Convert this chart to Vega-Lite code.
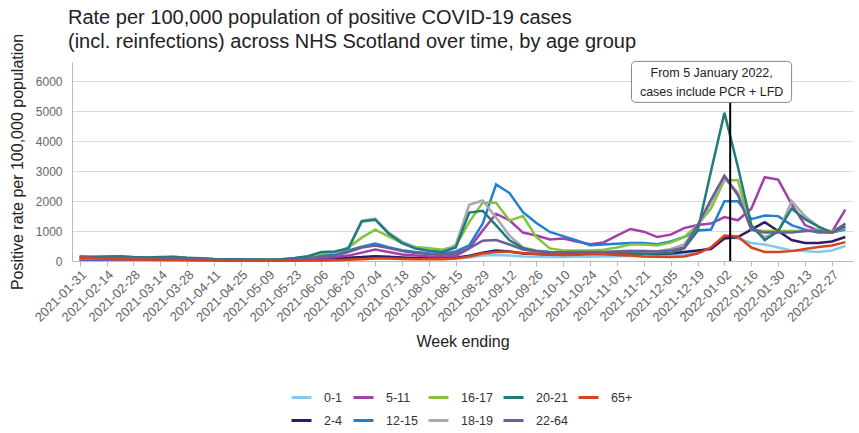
{
"$schema":"https://vega.github.io/schema/vega-lite/v6.json",
"width":781,"height":199,
"autosize":{"type":"none"},
"padding":{"left":72,"top":62,"right":6,"bottom":172},
"background":"white",
"config":{"view":{"stroke":null},"font":"Liberation Sans"},
"title":{"text":["Rate per 100,000 population of positive COVID-19 cases","(incl. reinfections) across NHS Scotland over time, by age group"],"anchor":"start","frame":"group","fontSize":20,"fontWeight":"normal","lineHeight":24,"color":"#222","offset":8,"dx":-4,"dy":27,"font":"Liberation Sans"},
"datasets":{"cases":[
{"d":"2021-01-31","g":"0-1","v":50},{"d":"2021-02-07","g":"0-1","v":45},{"d":"2021-02-14","g":"0-1","v":50},{"d":"2021-02-21","g":"0-1","v":55},{"d":"2021-02-28","g":"0-1","v":50},{"d":"2021-03-07","g":"0-1","v":50},{"d":"2021-03-14","g":"0-1","v":50},{"d":"2021-03-21","g":"0-1","v":45},{"d":"2021-03-28","g":"0-1","v":40},{"d":"2021-04-04","g":"0-1","v":35},
{"d":"2021-04-11","g":"0-1","v":30},{"d":"2021-04-18","g":"0-1","v":25},{"d":"2021-04-25","g":"0-1","v":20},{"d":"2021-05-02","g":"0-1","v":20},{"d":"2021-05-09","g":"0-1","v":20},{"d":"2021-05-16","g":"0-1","v":25},{"d":"2021-05-23","g":"0-1","v":30},{"d":"2021-05-30","g":"0-1","v":40},{"d":"2021-06-06","g":"0-1","v":60},{"d":"2021-06-13","g":"0-1","v":80},
{"d":"2021-06-20","g":"0-1","v":90},{"d":"2021-06-27","g":"0-1","v":120},{"d":"2021-07-04","g":"0-1","v":150},{"d":"2021-07-11","g":"0-1","v":130},{"d":"2021-07-18","g":"0-1","v":100},{"d":"2021-07-25","g":"0-1","v":90},{"d":"2021-08-01","g":"0-1","v":80},{"d":"2021-08-08","g":"0-1","v":80},{"d":"2021-08-15","g":"0-1","v":90},{"d":"2021-08-22","g":"0-1","v":120},
{"d":"2021-08-29","g":"0-1","v":180},{"d":"2021-09-05","g":"0-1","v":200},{"d":"2021-09-12","g":"0-1","v":180},{"d":"2021-09-19","g":"0-1","v":150},{"d":"2021-09-26","g":"0-1","v":140},{"d":"2021-10-03","g":"0-1","v":130},{"d":"2021-10-10","g":"0-1","v":130},{"d":"2021-10-17","g":"0-1","v":140},{"d":"2021-10-24","g":"0-1","v":140},{"d":"2021-10-31","g":"0-1","v":150},
{"d":"2021-11-07","g":"0-1","v":160},{"d":"2021-11-14","g":"0-1","v":170},{"d":"2021-11-21","g":"0-1","v":170},{"d":"2021-11-28","g":"0-1","v":160},{"d":"2021-12-05","g":"0-1","v":180},{"d":"2021-12-12","g":"0-1","v":220},{"d":"2021-12-19","g":"0-1","v":300},{"d":"2021-12-26","g":"0-1","v":450},{"d":"2022-01-02","g":"0-1","v":800},{"d":"2022-01-09","g":"0-1","v":750},
{"d":"2022-01-16","g":"0-1","v":600},{"d":"2022-01-23","g":"0-1","v":550},{"d":"2022-01-30","g":"0-1","v":450},{"d":"2022-02-06","g":"0-1","v":350},{"d":"2022-02-13","g":"0-1","v":330},{"d":"2022-02-20","g":"0-1","v":300},{"d":"2022-02-27","g":"0-1","v":350},{"d":"2022-03-06","g":"0-1","v":500},

{"d":"2021-01-31","g":"2-4","v":60},{"d":"2021-02-07","g":"2-4","v":50},{"d":"2021-02-14","g":"2-4","v":60},{"d":"2021-02-21","g":"2-4","v":70},{"d":"2021-02-28","g":"2-4","v":60},{"d":"2021-03-07","g":"2-4","v":60},{"d":"2021-03-14","g":"2-4","v":60},{"d":"2021-03-21","g":"2-4","v":60},{"d":"2021-03-28","g":"2-4","v":50},{"d":"2021-04-04","g":"2-4","v":40},
{"d":"2021-04-11","g":"2-4","v":30},{"d":"2021-04-18","g":"2-4","v":25},{"d":"2021-04-25","g":"2-4","v":20},{"d":"2021-05-02","g":"2-4","v":20},{"d":"2021-05-09","g":"2-4","v":20},{"d":"2021-05-16","g":"2-4","v":25},{"d":"2021-05-23","g":"2-4","v":30},{"d":"2021-05-30","g":"2-4","v":50},{"d":"2021-06-06","g":"2-4","v":80},{"d":"2021-06-13","g":"2-4","v":100},
{"d":"2021-06-20","g":"2-4","v":110},{"d":"2021-06-27","g":"2-4","v":130},{"d":"2021-07-04","g":"2-4","v":160},{"d":"2021-07-11","g":"2-4","v":140},{"d":"2021-07-18","g":"2-4","v":120},{"d":"2021-07-25","g":"2-4","v":100},{"d":"2021-08-01","g":"2-4","v":90},{"d":"2021-08-08","g":"2-4","v":90},{"d":"2021-08-15","g":"2-4","v":110},{"d":"2021-08-22","g":"2-4","v":180},
{"d":"2021-08-29","g":"2-4","v":280},{"d":"2021-09-05","g":"2-4","v":350},{"d":"2021-09-12","g":"2-4","v":320},{"d":"2021-09-19","g":"2-4","v":250},{"d":"2021-09-26","g":"2-4","v":230},{"d":"2021-10-03","g":"2-4","v":220},{"d":"2021-10-10","g":"2-4","v":220},{"d":"2021-10-17","g":"2-4","v":230},{"d":"2021-10-24","g":"2-4","v":230},{"d":"2021-10-31","g":"2-4","v":230},
{"d":"2021-11-07","g":"2-4","v":240},{"d":"2021-11-14","g":"2-4","v":240},{"d":"2021-11-21","g":"2-4","v":240},{"d":"2021-11-28","g":"2-4","v":230},{"d":"2021-12-05","g":"2-4","v":250},{"d":"2021-12-12","g":"2-4","v":300},{"d":"2021-12-19","g":"2-4","v":350},{"d":"2021-12-26","g":"2-4","v":400},{"d":"2022-01-02","g":"2-4","v":750},{"d":"2022-01-09","g":"2-4","v":800},
{"d":"2022-01-16","g":"2-4","v":1050},{"d":"2022-01-23","g":"2-4","v":1300},{"d":"2022-01-30","g":"2-4","v":1000},{"d":"2022-02-06","g":"2-4","v":700},{"d":"2022-02-13","g":"2-4","v":600},{"d":"2022-02-20","g":"2-4","v":600},{"d":"2022-02-27","g":"2-4","v":650},{"d":"2022-03-06","g":"2-4","v":800},

{"d":"2021-01-31","g":"5-11","v":50},{"d":"2021-02-07","g":"5-11","v":50},{"d":"2021-02-14","g":"5-11","v":60},{"d":"2021-02-21","g":"5-11","v":70},{"d":"2021-02-28","g":"5-11","v":70},{"d":"2021-03-07","g":"5-11","v":80},{"d":"2021-03-14","g":"5-11","v":90},{"d":"2021-03-21","g":"5-11","v":80},{"d":"2021-03-28","g":"5-11","v":60},{"d":"2021-04-04","g":"5-11","v":50},
{"d":"2021-04-11","g":"5-11","v":40},{"d":"2021-04-18","g":"5-11","v":30},{"d":"2021-04-25","g":"5-11","v":25},{"d":"2021-05-02","g":"5-11","v":25},{"d":"2021-05-09","g":"5-11","v":20},{"d":"2021-05-16","g":"5-11","v":30},{"d":"2021-05-23","g":"5-11","v":40},{"d":"2021-05-30","g":"5-11","v":60},{"d":"2021-06-06","g":"5-11","v":100},{"d":"2021-06-13","g":"5-11","v":130},
{"d":"2021-06-20","g":"5-11","v":180},{"d":"2021-06-27","g":"5-11","v":280},{"d":"2021-07-04","g":"5-11","v":380},{"d":"2021-07-11","g":"5-11","v":300},{"d":"2021-07-18","g":"5-11","v":220},{"d":"2021-07-25","g":"5-11","v":180},{"d":"2021-08-01","g":"5-11","v":160},{"d":"2021-08-08","g":"5-11","v":150},{"d":"2021-08-15","g":"5-11","v":170},{"d":"2021-08-22","g":"5-11","v":420},
{"d":"2021-08-29","g":"5-11","v":1020},{"d":"2021-09-05","g":"5-11","v":1580},{"d":"2021-09-12","g":"5-11","v":1360},{"d":"2021-09-19","g":"5-11","v":950},{"d":"2021-09-26","g":"5-11","v":850},{"d":"2021-10-03","g":"5-11","v":720},{"d":"2021-10-10","g":"5-11","v":750},{"d":"2021-10-17","g":"5-11","v":650},{"d":"2021-10-24","g":"5-11","v":560},{"d":"2021-10-31","g":"5-11","v":620},
{"d":"2021-11-07","g":"5-11","v":850},{"d":"2021-11-14","g":"5-11","v":1070},{"d":"2021-11-21","g":"5-11","v":980},{"d":"2021-11-28","g":"5-11","v":800},{"d":"2021-12-05","g":"5-11","v":880},{"d":"2021-12-12","g":"5-11","v":1100},{"d":"2021-12-19","g":"5-11","v":1200},{"d":"2021-12-26","g":"5-11","v":1250},{"d":"2022-01-02","g":"5-11","v":1470},{"d":"2022-01-09","g":"5-11","v":1360},
{"d":"2022-01-16","g":"5-11","v":1750},{"d":"2022-01-23","g":"5-11","v":2800},{"d":"2022-01-30","g":"5-11","v":2720},{"d":"2022-02-06","g":"5-11","v":1900},{"d":"2022-02-13","g":"5-11","v":1200},{"d":"2022-02-20","g":"5-11","v":1020},{"d":"2022-02-27","g":"5-11","v":970},{"d":"2022-03-06","g":"5-11","v":1720},

{"d":"2021-01-31","g":"12-15","v":70},{"d":"2021-02-07","g":"12-15","v":60},{"d":"2021-02-14","g":"12-15","v":70},{"d":"2021-02-21","g":"12-15","v":90},{"d":"2021-02-28","g":"12-15","v":90},{"d":"2021-03-07","g":"12-15","v":100},{"d":"2021-03-14","g":"12-15","v":110},{"d":"2021-03-21","g":"12-15","v":100},{"d":"2021-03-28","g":"12-15","v":80},{"d":"2021-04-04","g":"12-15","v":60},
{"d":"2021-04-11","g":"12-15","v":50},{"d":"2021-04-18","g":"12-15","v":40},{"d":"2021-04-25","g":"12-15","v":35},{"d":"2021-05-02","g":"12-15","v":30},{"d":"2021-05-09","g":"12-15","v":30},{"d":"2021-05-16","g":"12-15","v":40},{"d":"2021-05-23","g":"12-15","v":60},{"d":"2021-05-30","g":"12-15","v":100},{"d":"2021-06-06","g":"12-15","v":180},{"d":"2021-06-13","g":"12-15","v":220},
{"d":"2021-06-20","g":"12-15","v":350},{"d":"2021-06-27","g":"12-15","v":480},{"d":"2021-07-04","g":"12-15","v":580},{"d":"2021-07-11","g":"12-15","v":460},{"d":"2021-07-18","g":"12-15","v":360},{"d":"2021-07-25","g":"12-15","v":300},{"d":"2021-08-01","g":"12-15","v":260},{"d":"2021-08-08","g":"12-15","v":250},{"d":"2021-08-15","g":"12-15","v":320},{"d":"2021-08-22","g":"12-15","v":520},
{"d":"2021-08-29","g":"12-15","v":1250},{"d":"2021-09-05","g":"12-15","v":2560},{"d":"2021-09-12","g":"12-15","v":2270},{"d":"2021-09-19","g":"12-15","v":1630},{"d":"2021-09-26","g":"12-15","v":1270},{"d":"2021-10-03","g":"12-15","v":970},{"d":"2021-10-10","g":"12-15","v":830},{"d":"2021-10-17","g":"12-15","v":690},{"d":"2021-10-24","g":"12-15","v":530},{"d":"2021-10-31","g":"12-15","v":550},
{"d":"2021-11-07","g":"12-15","v":580},{"d":"2021-11-14","g":"12-15","v":600},{"d":"2021-11-21","g":"12-15","v":600},{"d":"2021-11-28","g":"12-15","v":560},{"d":"2021-12-05","g":"12-15","v":650},{"d":"2021-12-12","g":"12-15","v":800},{"d":"2021-12-19","g":"12-15","v":1020},{"d":"2021-12-26","g":"12-15","v":1050},{"d":"2022-01-02","g":"12-15","v":2000},{"d":"2022-01-09","g":"12-15","v":2000},
{"d":"2022-01-16","g":"12-15","v":1400},{"d":"2022-01-23","g":"12-15","v":1520},{"d":"2022-01-30","g":"12-15","v":1500},{"d":"2022-02-06","g":"12-15","v":1200},{"d":"2022-02-13","g":"12-15","v":1050},{"d":"2022-02-20","g":"12-15","v":950},{"d":"2022-02-27","g":"12-15","v":950},{"d":"2022-03-06","g":"12-15","v":1050},

{"d":"2021-01-31","g":"16-17","v":100},{"d":"2021-02-07","g":"16-17","v":90},{"d":"2021-02-14","g":"16-17","v":100},{"d":"2021-02-21","g":"16-17","v":120},{"d":"2021-02-28","g":"16-17","v":110},{"d":"2021-03-07","g":"16-17","v":110},{"d":"2021-03-14","g":"16-17","v":120},{"d":"2021-03-21","g":"16-17","v":120},{"d":"2021-03-28","g":"16-17","v":100},{"d":"2021-04-04","g":"16-17","v":80},
{"d":"2021-04-11","g":"16-17","v":60},{"d":"2021-04-18","g":"16-17","v":50},{"d":"2021-04-25","g":"16-17","v":40},{"d":"2021-05-02","g":"16-17","v":40},{"d":"2021-05-09","g":"16-17","v":40},{"d":"2021-05-16","g":"16-17","v":50},{"d":"2021-05-23","g":"16-17","v":80},{"d":"2021-05-30","g":"16-17","v":130},{"d":"2021-06-06","g":"16-17","v":250},{"d":"2021-06-13","g":"16-17","v":280},
{"d":"2021-06-20","g":"16-17","v":450},{"d":"2021-06-27","g":"16-17","v":780},{"d":"2021-07-04","g":"16-17","v":1050},{"d":"2021-07-11","g":"16-17","v":820},{"d":"2021-07-18","g":"16-17","v":600},{"d":"2021-07-25","g":"16-17","v":470},{"d":"2021-08-01","g":"16-17","v":430},{"d":"2021-08-08","g":"16-17","v":380},{"d":"2021-08-15","g":"16-17","v":500},{"d":"2021-08-22","g":"16-17","v":1300},
{"d":"2021-08-29","g":"16-17","v":1950},{"d":"2021-09-05","g":"16-17","v":1950},{"d":"2021-09-12","g":"16-17","v":1350},{"d":"2021-09-19","g":"16-17","v":1500},{"d":"2021-09-26","g":"16-17","v":800},{"d":"2021-10-03","g":"16-17","v":420},{"d":"2021-10-10","g":"16-17","v":350},{"d":"2021-10-17","g":"16-17","v":350},{"d":"2021-10-24","g":"16-17","v":350},{"d":"2021-10-31","g":"16-17","v":380},
{"d":"2021-11-07","g":"16-17","v":450},{"d":"2021-11-14","g":"16-17","v":550},{"d":"2021-11-21","g":"16-17","v":550},{"d":"2021-11-28","g":"16-17","v":520},{"d":"2021-12-05","g":"16-17","v":620},{"d":"2021-12-12","g":"16-17","v":800},{"d":"2021-12-19","g":"16-17","v":1200},{"d":"2021-12-26","g":"16-17","v":1750},{"d":"2022-01-02","g":"16-17","v":2700},{"d":"2022-01-09","g":"16-17","v":2700},
{"d":"2022-01-16","g":"16-17","v":1050},{"d":"2022-01-23","g":"16-17","v":1000},{"d":"2022-01-30","g":"16-17","v":1000},{"d":"2022-02-06","g":"16-17","v":1000},{"d":"2022-02-13","g":"16-17","v":1000},{"d":"2022-02-20","g":"16-17","v":1050},{"d":"2022-02-27","g":"16-17","v":1000},{"d":"2022-03-06","g":"16-17","v":1200},

{"d":"2021-01-31","g":"18-19","v":140},{"d":"2021-02-07","g":"18-19","v":130},{"d":"2021-02-14","g":"18-19","v":140},{"d":"2021-02-21","g":"18-19","v":150},{"d":"2021-02-28","g":"18-19","v":120},{"d":"2021-03-07","g":"18-19","v":110},{"d":"2021-03-14","g":"18-19","v":120},{"d":"2021-03-21","g":"18-19","v":130},{"d":"2021-03-28","g":"18-19","v":100},{"d":"2021-04-04","g":"18-19","v":80},
{"d":"2021-04-11","g":"18-19","v":60},{"d":"2021-04-18","g":"18-19","v":50},{"d":"2021-04-25","g":"18-19","v":50},{"d":"2021-05-02","g":"18-19","v":40},{"d":"2021-05-09","g":"18-19","v":40},{"d":"2021-05-16","g":"18-19","v":50},{"d":"2021-05-23","g":"18-19","v":90},{"d":"2021-05-30","g":"18-19","v":150},{"d":"2021-06-06","g":"18-19","v":280},{"d":"2021-06-13","g":"18-19","v":300},
{"d":"2021-06-20","g":"18-19","v":400},{"d":"2021-06-27","g":"18-19","v":1350},{"d":"2021-07-04","g":"18-19","v":1420},{"d":"2021-07-11","g":"18-19","v":950},{"d":"2021-07-18","g":"18-19","v":650},{"d":"2021-07-25","g":"18-19","v":460},{"d":"2021-08-01","g":"18-19","v":350},{"d":"2021-08-08","g":"18-19","v":300},{"d":"2021-08-15","g":"18-19","v":550},{"d":"2021-08-22","g":"18-19","v":1880},
{"d":"2021-08-29","g":"18-19","v":2020},{"d":"2021-09-05","g":"18-19","v":1450},{"d":"2021-09-12","g":"18-19","v":850},{"d":"2021-09-19","g":"18-19","v":450},{"d":"2021-09-26","g":"18-19","v":350},{"d":"2021-10-03","g":"18-19","v":300},{"d":"2021-10-10","g":"18-19","v":290},{"d":"2021-10-17","g":"18-19","v":280},{"d":"2021-10-24","g":"18-19","v":280},{"d":"2021-10-31","g":"18-19","v":300},
{"d":"2021-11-07","g":"18-19","v":330},{"d":"2021-11-14","g":"18-19","v":350},{"d":"2021-11-21","g":"18-19","v":340},{"d":"2021-11-28","g":"18-19","v":330},{"d":"2021-12-05","g":"18-19","v":400},{"d":"2021-12-12","g":"18-19","v":550},{"d":"2021-12-19","g":"18-19","v":1150},{"d":"2021-12-26","g":"18-19","v":1950},{"d":"2022-01-02","g":"18-19","v":2750},{"d":"2022-01-09","g":"18-19","v":2300},
{"d":"2022-01-16","g":"18-19","v":1100},{"d":"2022-01-23","g":"18-19","v":800},{"d":"2022-01-30","g":"18-19","v":950},{"d":"2022-02-06","g":"18-19","v":2000},{"d":"2022-02-13","g":"18-19","v":1500},{"d":"2022-02-20","g":"18-19","v":1150},{"d":"2022-02-27","g":"18-19","v":950},{"d":"2022-03-06","g":"18-19","v":1100},

{"d":"2021-01-31","g":"20-21","v":150},{"d":"2021-02-07","g":"20-21","v":140},{"d":"2021-02-14","g":"20-21","v":150},{"d":"2021-02-21","g":"20-21","v":160},{"d":"2021-02-28","g":"20-21","v":130},{"d":"2021-03-07","g":"20-21","v":120},{"d":"2021-03-14","g":"20-21","v":130},{"d":"2021-03-21","g":"20-21","v":140},{"d":"2021-03-28","g":"20-21","v":110},{"d":"2021-04-04","g":"20-21","v":90},
{"d":"2021-04-11","g":"20-21","v":70},{"d":"2021-04-18","g":"20-21","v":60},{"d":"2021-04-25","g":"20-21","v":60},{"d":"2021-05-02","g":"20-21","v":50},{"d":"2021-05-09","g":"20-21","v":50},{"d":"2021-05-16","g":"20-21","v":60},{"d":"2021-05-23","g":"20-21","v":100},{"d":"2021-05-30","g":"20-21","v":160},{"d":"2021-06-06","g":"20-21","v":300},{"d":"2021-06-13","g":"20-21","v":320},
{"d":"2021-06-20","g":"20-21","v":420},{"d":"2021-06-27","g":"20-21","v":1320},{"d":"2021-07-04","g":"20-21","v":1380},{"d":"2021-07-11","g":"20-21","v":920},{"d":"2021-07-18","g":"20-21","v":600},{"d":"2021-07-25","g":"20-21","v":420},{"d":"2021-08-01","g":"20-21","v":340},{"d":"2021-08-08","g":"20-21","v":300},{"d":"2021-08-15","g":"20-21","v":450},{"d":"2021-08-22","g":"20-21","v":1620},
{"d":"2021-08-29","g":"20-21","v":1680},{"d":"2021-09-05","g":"20-21","v":1190},{"d":"2021-09-12","g":"20-21","v":690},{"d":"2021-09-19","g":"20-21","v":430},{"d":"2021-09-26","g":"20-21","v":330},{"d":"2021-10-03","g":"20-21","v":290},{"d":"2021-10-10","g":"20-21","v":270},{"d":"2021-10-17","g":"20-21","v":260},{"d":"2021-10-24","g":"20-21","v":250},{"d":"2021-10-31","g":"20-21","v":250},
{"d":"2021-11-07","g":"20-21","v":260},{"d":"2021-11-14","g":"20-21","v":250},{"d":"2021-11-21","g":"20-21","v":240},{"d":"2021-11-28","g":"20-21","v":250},{"d":"2021-12-05","g":"20-21","v":270},{"d":"2021-12-12","g":"20-21","v":420},{"d":"2021-12-19","g":"20-21","v":1000},{"d":"2021-12-26","g":"20-21","v":3000},{"d":"2022-01-02","g":"20-21","v":4950},{"d":"2022-01-09","g":"20-21","v":3150},
{"d":"2022-01-16","g":"20-21","v":1200},{"d":"2022-01-23","g":"20-21","v":700},{"d":"2022-01-30","g":"20-21","v":1000},{"d":"2022-02-06","g":"20-21","v":1750},{"d":"2022-02-13","g":"20-21","v":1400},{"d":"2022-02-20","g":"20-21","v":1150},{"d":"2022-02-27","g":"20-21","v":950},{"d":"2022-03-06","g":"20-21","v":1150},

{"d":"2021-01-31","g":"22-64","v":130},{"d":"2021-02-07","g":"22-64","v":110},{"d":"2021-02-14","g":"22-64","v":100},{"d":"2021-02-21","g":"22-64","v":100},{"d":"2021-02-28","g":"22-64","v":90},{"d":"2021-03-07","g":"22-64","v":80},{"d":"2021-03-14","g":"22-64","v":80},{"d":"2021-03-21","g":"22-64","v":80},{"d":"2021-03-28","g":"22-64","v":70},{"d":"2021-04-04","g":"22-64","v":60},
{"d":"2021-04-11","g":"22-64","v":40},{"d":"2021-04-18","g":"22-64","v":35},{"d":"2021-04-25","g":"22-64","v":30},{"d":"2021-05-02","g":"22-64","v":30},{"d":"2021-05-09","g":"22-64","v":25},{"d":"2021-05-16","g":"22-64","v":30},{"d":"2021-05-23","g":"22-64","v":50},{"d":"2021-05-30","g":"22-64","v":80},{"d":"2021-06-06","g":"22-64","v":150},{"d":"2021-06-13","g":"22-64","v":180},
{"d":"2021-06-20","g":"22-64","v":300},{"d":"2021-06-27","g":"22-64","v":450},{"d":"2021-07-04","g":"22-64","v":520},{"d":"2021-07-11","g":"22-64","v":430},{"d":"2021-07-18","g":"22-64","v":330},{"d":"2021-07-25","g":"22-64","v":270},{"d":"2021-08-01","g":"22-64","v":230},{"d":"2021-08-08","g":"22-64","v":210},{"d":"2021-08-15","g":"22-64","v":250},{"d":"2021-08-22","g":"22-64","v":420},
{"d":"2021-08-29","g":"22-64","v":680},{"d":"2021-09-05","g":"22-64","v":700},{"d":"2021-09-12","g":"22-64","v":550},{"d":"2021-09-19","g":"22-64","v":380},{"d":"2021-09-26","g":"22-64","v":320},{"d":"2021-10-03","g":"22-64","v":300},{"d":"2021-10-10","g":"22-64","v":290},{"d":"2021-10-17","g":"22-64","v":300},{"d":"2021-10-24","g":"22-64","v":300},{"d":"2021-10-31","g":"22-64","v":300},
{"d":"2021-11-07","g":"22-64","v":320},{"d":"2021-11-14","g":"22-64","v":330},{"d":"2021-11-21","g":"22-64","v":330},{"d":"2021-11-28","g":"22-64","v":320},{"d":"2021-12-05","g":"22-64","v":350},{"d":"2021-12-12","g":"22-64","v":450},{"d":"2021-12-19","g":"22-64","v":1200},{"d":"2021-12-26","g":"22-64","v":2050},{"d":"2022-01-02","g":"22-64","v":2850},{"d":"2022-01-09","g":"22-64","v":2200},
{"d":"2022-01-16","g":"22-64","v":1050},{"d":"2022-01-23","g":"22-64","v":950},{"d":"2022-01-30","g":"22-64","v":950},{"d":"2022-02-06","g":"22-64","v":950},{"d":"2022-02-13","g":"22-64","v":1000},{"d":"2022-02-20","g":"22-64","v":1000},{"d":"2022-02-27","g":"22-64","v":950},{"d":"2022-03-06","g":"22-64","v":1250},

{"d":"2021-01-31","g":"65+","v":120},{"d":"2021-02-07","g":"65+","v":100},{"d":"2021-02-14","g":"65+","v":80},{"d":"2021-02-21","g":"65+","v":60},{"d":"2021-02-28","g":"65+","v":50},{"d":"2021-03-07","g":"65+","v":40},{"d":"2021-03-14","g":"65+","v":35},{"d":"2021-03-21","g":"65+","v":30},{"d":"2021-03-28","g":"65+","v":25},{"d":"2021-04-04","g":"65+","v":20},
{"d":"2021-04-11","g":"65+","v":15},{"d":"2021-04-18","g":"65+","v":12},{"d":"2021-04-25","g":"65+","v":10},{"d":"2021-05-02","g":"65+","v":10},{"d":"2021-05-09","g":"65+","v":10},{"d":"2021-05-16","g":"65+","v":10},{"d":"2021-05-23","g":"65+","v":12},{"d":"2021-05-30","g":"65+","v":15},{"d":"2021-06-06","g":"65+","v":20},{"d":"2021-06-13","g":"65+","v":25},
{"d":"2021-06-20","g":"65+","v":40},{"d":"2021-06-27","g":"65+","v":60},{"d":"2021-07-04","g":"65+","v":80},{"d":"2021-07-11","g":"65+","v":80},{"d":"2021-07-18","g":"65+","v":70},{"d":"2021-07-25","g":"65+","v":60},{"d":"2021-08-01","g":"65+","v":60},{"d":"2021-08-08","g":"65+","v":60},{"d":"2021-08-15","g":"65+","v":80},{"d":"2021-08-22","g":"65+","v":150},
{"d":"2021-08-29","g":"65+","v":250},{"d":"2021-09-05","g":"65+","v":300},{"d":"2021-09-12","g":"65+","v":310},{"d":"2021-09-19","g":"65+","v":270},{"d":"2021-09-26","g":"65+","v":230},{"d":"2021-10-03","g":"65+","v":210},{"d":"2021-10-10","g":"65+","v":200},{"d":"2021-10-17","g":"65+","v":210},{"d":"2021-10-24","g":"65+","v":230},{"d":"2021-10-31","g":"65+","v":230},
{"d":"2021-11-07","g":"65+","v":200},{"d":"2021-11-14","g":"65+","v":180},{"d":"2021-11-21","g":"65+","v":150},{"d":"2021-11-28","g":"65+","v":140},{"d":"2021-12-05","g":"65+","v":130},{"d":"2021-12-12","g":"65+","v":150},{"d":"2021-12-19","g":"65+","v":250},{"d":"2021-12-26","g":"65+","v":450},{"d":"2022-01-02","g":"65+","v":850},{"d":"2022-01-09","g":"65+","v":820},
{"d":"2022-01-16","g":"65+","v":450},{"d":"2022-01-23","g":"65+","v":300},{"d":"2022-01-30","g":"65+","v":300},{"d":"2022-02-06","g":"65+","v":330},{"d":"2022-02-13","g":"65+","v":400},{"d":"2022-02-20","g":"65+","v":470},{"d":"2022-02-27","g":"65+","v":520},{"d":"2022-03-06","g":"65+","v":630}
]},
"encoding":{
  "x":{"field":"d","type":"temporal",
   "scale":{"type":"utc","domain":[{"year":2021,"month":1,"date":27,"utc":true},{"year":2022,"month":3,"date":10,"utc":true}]},
   "axis":{"title":"Week ending","format":"%Y-%m-%d","labelAngle":-45,"labelFontSize":13,"labelColor":"#666","labelFont":"Liberation Sans","domainColor":"#bbb","tickColor":"#bbb","tickSize":5,"grid":false,"titleFontSize":16,"titleFontWeight":"normal","titleColor":"#222","titleFont":"Liberation Sans","titlePadding":9,"labelPadding":2,"labelOverlap":false,
    "values":[{"year":2021,"month":1,"date":31,"utc":true},{"year":2021,"month":2,"date":14,"utc":true},{"year":2021,"month":2,"date":28,"utc":true},{"year":2021,"month":3,"date":14,"utc":true},{"year":2021,"month":3,"date":28,"utc":true},{"year":2021,"month":4,"date":11,"utc":true},{"year":2021,"month":4,"date":25,"utc":true},{"year":2021,"month":5,"date":9,"utc":true},{"year":2021,"month":5,"date":23,"utc":true},{"year":2021,"month":6,"date":6,"utc":true},{"year":2021,"month":6,"date":20,"utc":true},{"year":2021,"month":7,"date":4,"utc":true},{"year":2021,"month":7,"date":18,"utc":true},{"year":2021,"month":8,"date":1,"utc":true},{"year":2021,"month":8,"date":15,"utc":true},{"year":2021,"month":8,"date":29,"utc":true},{"year":2021,"month":9,"date":12,"utc":true},{"year":2021,"month":9,"date":26,"utc":true},{"year":2021,"month":10,"date":10,"utc":true},{"year":2021,"month":10,"date":24,"utc":true},{"year":2021,"month":11,"date":7,"utc":true},{"year":2021,"month":11,"date":21,"utc":true},{"year":2021,"month":12,"date":5,"utc":true},{"year":2021,"month":12,"date":19,"utc":true},{"year":2022,"month":1,"date":2,"utc":true},{"year":2022,"month":1,"date":16,"utc":true},{"year":2022,"month":1,"date":30,"utc":true},{"year":2022,"month":2,"date":13,"utc":true},{"year":2022,"month":2,"date":27,"utc":true}]}},
  "y":{"field":"v","type":"quantitative","scale":{"domain":[0,6650],"nice":false},
   "axis":{"title":"Positive rate per 100,000 population","values":[0,1000,2000,3000,4000,5000,6000],"format":"d","ticks":false,"labelFontSize":12,"labelColor":"#666","labelFont":"Liberation Sans","gridColor":"#dcdcdc","gridWidth":1.2,"domainColor":"#bbb","labelPadding":10,"titleFontSize":16,"titleFontWeight":"normal","titleColor":"#222","titleFont":"Liberation Sans","titlePadding":10}}
},
"layer":[
{"data":{"name":"cases"},
 "mark":{"type":"line","strokeWidth":2.5,"clip":false},
 "encoding":{
  "color":{"field":"g","type":"nominal",
   "scale":{"domain":["0-1","5-11","16-17","20-21","65+","2-4","12-15","18-19","22-64"],"range":["#84c8ef","#a43ea8","#84c43c","#1e7c7a","#d6431c","#2e1b6c","#1f80d2","#a8a8b0","#6d5e96"]},
   "legend":{"title":null,"orient":"none","legendX":218,"legendY":324,"direction":"horizontal","columns":5,"symbolType":"stroke","symbolSize":400,"symbolStrokeWidth":3,"labelFontSize":12.5,"labelColor":"#333","labelFont":"Liberation Sans","labelOffset":11,"columnPadding":4,"rowPadding":5,"padding":0}}
 }},
{"data":{"values":[{"d":"2022-01-05","v":0,"v2":5300}]},
 "mark":{"type":"rule","color":"black","strokeWidth":2},
 "encoding":{"y2":{"field":"v2"}}},
{"data":{"values":[{"d":"2021-11-14T14:00:00Z","d2":"2022-02-06","v":5300,"v2":6670}]},
 "mark":{"type":"rect","fill":"white","stroke":"#888","strokeWidth":1,"cornerRadius":4},
 "encoding":{"x2":{"field":"d2"},"y2":{"field":"v2"}}},
{"data":{"values":[{"d":"2021-12-26T08:00:00Z","v":6270}]},
 "mark":{"type":"text","text":["From 5 January 2022,","cases include PCR + LFD"],"fontSize":12.5,"lineHeight":18.4,"align":"center","baseline":"middle","color":"#222","font":"Liberation Sans"}}
]
}
